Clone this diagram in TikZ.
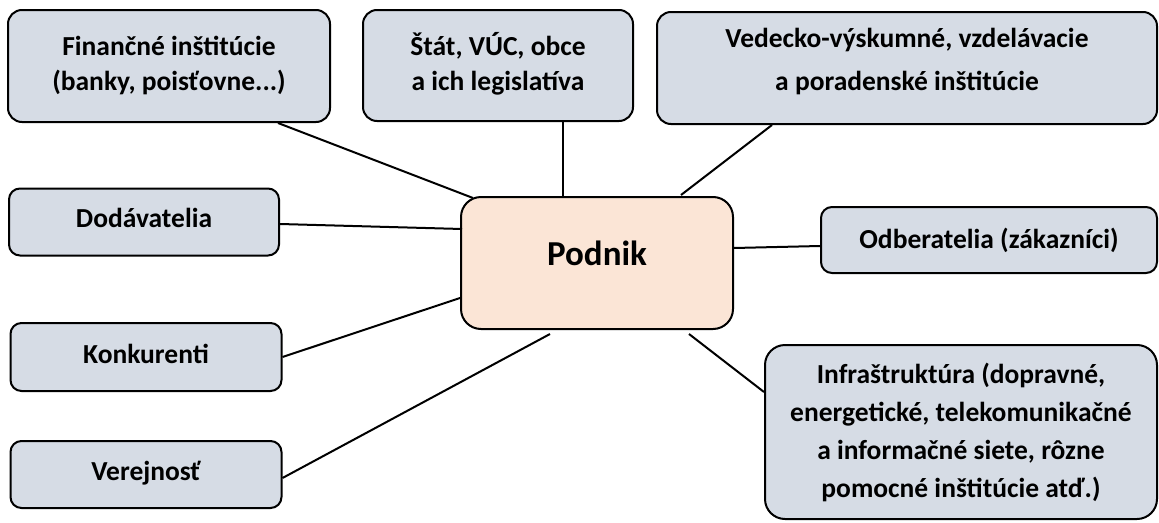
\documentclass[tikz,border=0pt]{standalone}
\usepackage{fontspec}
\setmainfont{Carlito}
\definecolor{boxfill}{HTML}{D6DCE5}
\definecolor{corefill}{HTML}{FBE5D6}
\begin{document}
\begin{tikzpicture}[x=1pt,y=-1pt,
  box/.style={draw=black,line width=2pt,fill=boxfill,rounded corners=14pt,
    align=center,inner sep=0pt,
    font=\fontsize{27.5}{35}\selectfont\bfseries},
  core/.style={draw=black,line width=2pt,fill=corefill,rounded corners=20pt,
    align=center,inner sep=0pt,minimum width=272pt,minimum height=132pt,
    font=\fontsize{35}{40}\selectfont\bfseries},
  conn/.style={draw=black,line width=2pt}]
\useasboundingbox (0,0) rectangle (1159,522);

\node[core] (podnik) at (597,263) {\raisebox{20pt}{Podnik}};

\node[box,minimum width=322pt,minimum height=112pt] (fin) at (169,66)
  {Finančné inštitúcie\\(banky, poisťovne...)\\[-29pt]\mbox{}};
\node[box,minimum width=270pt,minimum height=111pt] (stat) at (498,65.5)
  {Štát, VÚC, obce\\a ich legislatíva\\[-27pt]\mbox{}};
\node[box,minimum width=500pt,minimum height=112pt,
  font=\fontsize{27.5}{43}\selectfont\bfseries] (ved) at (907,68)
  {Vedecko-výskumné, vzdelávacie\\a poradenské inštitúcie\\[-25pt]\mbox{}};
\node[box,rounded corners=11pt,minimum width=270pt,minimum height=67pt] (dod) at (144,222)
  {\raisebox{8pt}{Dodávatelia}};
\node[box,rounded corners=11pt,minimum width=336pt,minimum height=66pt] (odb) at (989,240)
  {Odberatelia (zákazníci)};
\node[box,rounded corners=11pt,minimum width=271pt,minimum height=68pt] (kon) at (146,357)
  {\raisebox{6pt}{Konkurenti}};
\node[box,rounded corners=11pt,minimum width=271pt,minimum height=67pt] (ver) at (146,474.5)
  {\raisebox{8pt}{Verejnosť}};
\node[box,rounded corners=20pt,minimum width=392pt,minimum height=174pt,
  font=\fontsize{27.5}{38}\selectfont\bfseries] (inf) at (961,432)
  {Infraštruktúra (dopravné,\\energetické, telekomunikačné\\a informačné siete, rôzne\\pomocné inštitúcie atď.)};

\draw[conn] ([xshift=-53pt]fin.south east) -- ([xshift=13pt,yshift=-2pt]podnik.north west);
\draw[conn] ([xshift=65pt]stat.south) -- ([xshift=65pt]stat.south |- podnik.north);
\draw[conn] ([xshift=116pt]ved.south west) -- ([xshift=-53pt,yshift=1pt]podnik.north east);
\draw[conn] ([yshift=-2pt]dod.east) -- ([xshift=2pt,yshift=34pt]podnik.west);
\draw[conn] ([yshift=15pt]podnik.east) -- ([yshift=-6pt]odb.west);
\draw[conn] (kon.east) -- ([yshift=-35pt]podnik.west);
\draw[conn] ([yshift=-3.5pt]ver.east) -- ([xshift=-47pt,yshift=-4pt]podnik.south);
\draw[conn] ([xshift=-45pt,yshift=-4pt]podnik.south east) -- ([yshift=40pt]inf.west);
\end{tikzpicture}
\end{document}
